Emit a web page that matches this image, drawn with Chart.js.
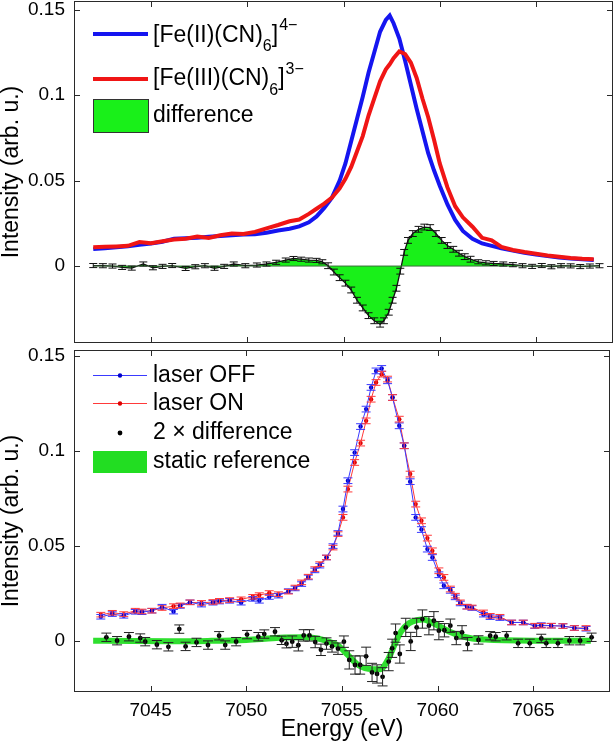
<!DOCTYPE html>
<html><head><meta charset="utf-8">
<script src="https://cdn.jsdelivr.net/npm/chart.js@4.4.1/dist/chart.umd.min.js"></script>
<style>
html,body{margin:0;padding:0;background:#fff;overflow:hidden}
#wrap{position:relative;width:614px;height:746px}
canvas{position:absolute;left:0}
#top{top:0}
#bot{top:344px}
</style></head><body>
<div id="wrap"><canvas id="top" width="614" height="344"></canvas><canvas id="bot" width="614" height="402"></canvas></div>
<script>
// ---------- DATA ----------
const xTicks = [7045, 7050, 7055, 7060, 7065];
const xTickLabels = ['7045', '7050', '7055', '7060', '7065'];
const yTicks = [0, 0.05, 0.1, 0.15];
const yTickLabels = ['0', '0.05', '0.1', '0.15'];

// Top panel: static spectra
const energyTop = [7042.0,7042.6,7043.2,7043.8,7044.4,7045.0,7045.6,7046.2,7046.8,7047.4,
  7048.0,7048.6,7049.2,7049.8,7050.4,7051.0,7051.6,7052.2,7052.7,7053.2,
  7053.6,7054.0,7054.4,7054.8,7055.1,7055.4,7055.7,7056.0,7056.3,7056.6,
  7056.9,7057.2,7057.4,7057.6,7057.9,7058.2,7058.5,7058.8,7059.1,7059.4,
  7059.7,7060.0,7060.4,7060.8,7061.2,7061.7,7062.2,7062.7,7063.2,7063.8,
  7064.4,7065.0,7065.6,7066.2,7066.8,7067.4,7068.0];
const fe2 = [0.0099,0.0104,0.0110,0.0116,0.0124,0.0132,0.0142,0.0160,0.0163,0.0166,
  0.0172,0.0176,0.0180,0.0184,0.0186,0.0195,0.0208,0.0218,0.0232,0.0256,
  0.0290,0.0340,0.0400,0.0500,0.0600,0.0730,0.0860,0.0990,0.1130,0.1250,
  0.1370,0.1440,0.1465,0.1420,0.1330,0.1200,0.1060,0.0920,0.0790,0.0660,
  0.0560,0.0470,0.0360,0.0270,0.0205,0.0160,0.0132,0.0118,0.0104,0.0090,
  0.0078,0.0068,0.0058,0.0050,0.0044,0.0040,0.0036];
const fe3 = [0.0110,0.0113,0.0115,0.0118,0.0140,0.0134,0.0145,0.0155,0.0160,0.0172,
  0.0164,0.0180,0.0190,0.0188,0.0200,0.0220,0.0240,0.0262,0.0272,0.0305,
  0.0335,0.0365,0.0400,0.0455,0.0510,0.0580,0.0670,0.0760,0.0880,0.0980,
  0.1080,0.1150,0.1180,0.1215,0.1255,0.1240,0.1190,0.1100,0.0980,0.0870,
  0.0740,0.0600,0.0460,0.0350,0.0285,0.0230,0.0165,0.0150,0.0112,0.0094,
  0.0082,0.0072,0.0062,0.0054,0.0047,0.0042,0.0040];

// Top panel: difference with error bars
const energyDiffTop = [7042.0,7042.5,7043.0,7043.5,7044.0,7044.6,7045.1,7045.6,7046.1,7046.8,
  7047.3,7047.8,7048.3,7048.8,7049.3,7049.9,7050.5,7051.0,7051.5,7052.0,
  7052.4,7052.8,7053.2,7053.6,7053.9,7054.2,7054.5,7054.8,7055.1,7055.4,
  7055.7,7056.0,7056.3,7056.6,7056.9,7057.1,7057.35,7057.55,7057.75,7057.95,
  7058.15,7058.35,7058.6,7058.9,7059.2,7059.5,7059.8,7060.1,7060.4,7060.7,
  7061.0,7061.3,7061.6,7062.0,7062.4,7062.8,7063.3,7063.8,7064.3,7064.8,
  7065.3,7065.8,7066.3,7066.8,7067.3,7067.8,7068.3];
const diffTop = [0.0003,0.0002,0.0000,-0.0008,-0.0012,0.0012,-0.0010,-0.0002,0.0003,-0.0014,
  -0.0004,0.0002,-0.0013,-0.0002,0.0012,0.0002,0.0006,0.0012,0.0022,0.0035,
  0.0044,0.0040,0.0035,0.0033,0.0025,0.0002,-0.0035,-0.0068,-0.0100,-0.0140,
  -0.0200,-0.0245,-0.0290,-0.0320,-0.0340,-0.0320,-0.0270,-0.0200,-0.0130,-0.0030,
  0.0080,0.0150,0.0190,0.0215,0.0228,0.0225,0.0190,0.0150,0.0120,0.0098,
  0.0075,0.0055,0.0040,0.0025,0.0019,0.0015,0.0012,0.0008,0.0002,-0.0002,
  0.0003,-0.0004,0.0002,0.0001,-0.0003,0.0000,0.0002];
const diffTopErr = [0.0012,0.0012,0.0012,0.0012,0.0012,0.0012,0.0012,0.0012,0.0012,0.0012,
  0.0012,0.0012,0.0012,0.0012,0.0012,0.0012,0.0012,0.0012,0.0012,0.0012,
  0.0012,0.0012,0.0012,0.0012,0.0012,0.0017,0.0017,0.0017,0.0017,0.0017,
  0.0017,0.0017,0.0017,0.0017,0.0017,0.0017,0.0017,0.0017,0.0017,0.0017,
  0.0017,0.0017,0.0017,0.0017,0.0017,0.0017,0.0017,0.0017,0.0017,0.0017,
  0.0017,0.0017,0.0017,0.0012,0.0012,0.0012,0.0012,0.0012,0.0012,0.0012,
  0.0012,0.0012,0.0012,0.0012,0.0012,0.0012,0.0012];
const baselineE = [7042.0, 7068.3];
const baselineY = [0, 0];

// Bottom panel: laser OFF / ON
const energyBot = [7042.4,7043.0,7043.6,7044.2,7044.55,7045.07,7045.6,7046.2,7046.55,7047.06,
  7047.66,7048.26,7048.6,7049.13,7049.73,7050.34,7050.68,7051.2,7051.68,7052.2,
  7052.55,7052.89,7053.24,7053.58,7053.84,7054.19,7054.53,7054.79,7055.05,7055.31,
  7055.66,7055.97,7056.26,7056.52,7056.78,7057.07,7057.38,7057.64,7057.99,7058.25,
  7058.56,7058.85,7059.15,7059.46,7059.72,7060.06,7060.32,7060.66,7060.92,7061.18,
  7061.53,7061.79,7062.39,7062.74,7063.25,7063.86,7064.47,7065.07,7065.41,7065.93,
  7066.54,7067.14,7067.75];
const laserOff = [0.0126,0.0140,0.0131,0.0152,0.0150,0.0158,0.0179,0.0153,0.0183,0.0202,
  0.0190,0.0200,0.0206,0.0210,0.0200,0.0220,0.0210,0.0230,0.0237,0.0261,
  0.0275,0.0298,0.0333,0.0370,0.0395,0.0438,0.0498,0.0567,0.0693,0.0842,
  0.0990,0.1127,0.1219,0.1333,0.1420,0.1433,0.1368,0.1280,0.1131,0.1026,
  0.0837,0.0649,0.0585,0.0482,0.0438,0.0347,0.0289,0.0265,0.0228,0.0196,
  0.0179,0.0172,0.0137,0.0124,0.0119,0.0096,0.0096,0.0077,0.0082,0.0079,
  0.0077,0.0067,0.0063];
const laserOn = [0.0137,0.0147,0.0140,0.0158,0.0154,0.0158,0.0172,0.0182,0.0186,0.0202,
  0.0199,0.0204,0.0210,0.0214,0.0218,0.0231,0.0240,0.0251,0.0245,0.0258,
  0.0280,0.0307,0.0337,0.0377,0.0403,0.0438,0.0490,0.0561,0.0649,0.0798,
  0.0938,0.1040,0.1157,0.1271,0.1359,0.1403,0.1377,0.1280,0.1166,0.1026,
  0.0877,0.0719,0.0631,0.0540,0.0473,0.0368,0.0333,0.0272,0.0237,0.0202,
  0.0179,0.0175,0.0149,0.0131,0.0126,0.0096,0.0096,0.0079,0.0079,0.0079,
  0.0077,0.0067,0.0067];
const laserErr = [0.0012,0.0012,0.0012,0.0012,0.0012,0.0012,0.0012,0.0012,0.0012,0.0012,
  0.0012,0.0012,0.0012,0.0012,0.0012,0.0012,0.0012,0.0012,0.0012,0.0012,
  0.0012,0.0012,0.0012,0.0012,0.0012,0.0012,0.0012,0.0012,0.0015,0.0015,
  0.0015,0.0015,0.0015,0.0015,0.0015,0.0015,0.0015,0.0015,0.0015,0.0015,
  0.0015,0.0015,0.0015,0.0015,0.0015,0.0015,0.0015,0.0015,0.0012,0.0012,
  0.0012,0.0012,0.0012,0.0012,0.0012,0.0012,0.0012,0.0012,0.0012,0.0012,
  0.0012,0.0012,0.0012];

// Bottom panel: 2 x difference
const energyDiff2 = [7042.69,7043.25,7043.87,7044.46,7044.72,7045.33,7045.93,7046.50,7046.83,7047.40,
  7048.00,7048.58,7048.90,7049.47,7050.04,7050.63,7050.94,7051.50,7051.85,7052.10,
  7052.40,7052.72,7053.00,7053.30,7053.60,7053.90,7054.19,7054.48,7054.79,7055.10,
  7055.38,7055.68,7055.95,7056.26,7056.57,7056.83,7057.12,7057.44,7057.62,7057.80,
  7058.02,7058.33,7058.59,7058.90,7059.20,7059.54,7059.80,7060.06,7060.35,7060.66,
  7060.97,7061.27,7061.56,7062.13,7062.74,7063.03,7063.60,7064.20,7064.81,7065.41,
  7065.67,7066.28,7066.88,7067.44,7068.04];
const diff2 = [0.0018,0.0000,0.0021,0.0014,-0.0005,-0.0021,-0.0032,0.0061,-0.0030,-0.0009,
  -0.0023,0.0026,-0.0023,-0.0005,0.0032,0.0021,0.0035,0.0047,0.0002,-0.0016,
  -0.0005,-0.0024,0.0028,0.0028,-0.0007,-0.0048,-0.0015,-0.0030,-0.0042,-0.0005,
  -0.0101,-0.0128,-0.0128,-0.0082,-0.0167,-0.0175,-0.0190,-0.0110,-0.0040,0.0040,
  -0.0070,0.0070,-0.0004,0.0070,0.0114,0.0079,0.0105,0.0053,0.0055,0.0079,
  0.0014,0.0044,-0.0018,0.0004,0.0026,0.0021,0.0026,-0.0014,-0.0014,0.0012,
  -0.0014,-0.0014,0.0000,0.0000,0.0018];
const diff2Err = [0.0022,0.0022,0.0022,0.0022,0.0022,0.0022,0.0022,0.0022,0.0022,0.0022,
  0.0022,0.0022,0.0022,0.0022,0.0022,0.0022,0.0022,0.0022,0.0022,0.0022,
  0.0030,0.0030,0.0030,0.0030,0.0030,0.0030,0.0030,0.0030,0.0030,0.0030,
  0.0048,0.0048,0.0048,0.0048,0.0048,0.0048,0.0048,0.0048,0.0048,0.0048,
  0.0048,0.0048,0.0048,0.0048,0.0048,0.0048,0.0048,0.0048,0.0035,0.0035,
  0.0035,0.0035,0.0035,0.0022,0.0022,0.0022,0.0022,0.0022,0.0022,0.0022,
  0.0022,0.0022,0.0022,0.0022,0.0022];

// Bottom panel: static reference
const energyRef = [7042.0,7044.0,7046.0,7048.0,7050.0,7051.0,7052.0,7053.0,7053.7,7054.3,
  7054.8,7055.3,7055.8,7056.2,7056.6,7057.0,7057.4,7057.75,7058.1,7058.5,
  7058.9,7059.25,7059.6,7060.0,7060.6,7061.2,7061.8,7062.5,7063.5,7065.0,7068.0];
const staticRef = [0.0000,-0.0002,-0.0003,-0.0001,0.0004,0.0010,0.0017,0.0018,0.0012,-0.0005,
  -0.0026,-0.0075,-0.0125,-0.0145,-0.0150,-0.0150,-0.0100,-0.0020,0.0050,0.0092,
  0.0108,0.0112,0.0100,0.0080,0.0048,0.0025,0.0012,0.0006,0.0002,0.0000,0.0000];

// ---------- HELPERS ----------
const FONT = '"Liberation Sans", Arial, Helvetica, sans-serif';
const pts = (xs, ys) => xs.map((x, i) => ({x: x, y: ys[i]}));
Chart.defaults.color = '#000';
Chart.defaults.font.family = FONT;

const errorBars = {
  id: 'errorBars',
  afterDatasetsDraw(chart) {
    const ctx = chart.ctx, xs = chart.scales.x, ys = chart.scales.y;
    chart.data.datasets.forEach((ds, i) => {
      if (!ds.errors || !chart.isDatasetVisible(i)) return;
      ctx.save();
      ctx.strokeStyle = ds.errorColor; ctx.lineWidth = ds.errorWidth || 1;
      ctx.beginPath();
      ds.data.forEach((p, j) => {
        const e = ds.errors[j]; if (e == null) return;
        const px = xs.getPixelForValue(p.x);
        const y1 = ys.getPixelForValue(p.y + e), y2 = ys.getPixelForValue(p.y - e);
        const c = ds.capHalf || 4;
        ctx.moveTo(px, y1); ctx.lineTo(px, y2);
        ctx.moveTo(px - c, y1); ctx.lineTo(px + c, y1);
        ctx.moveTo(px - c, y2); ctx.lineTo(px + c, y2);
      });
      ctx.stroke();
      ctx.restore();
    });
  }
};

const frame = {
  id: 'frame',
  afterDraw(chart) {
    const ctx = chart.ctx, a = chart.chartArea, xs = chart.scales.x, ys = chart.scales.y;
    ctx.save();
    ctx.strokeStyle = '#2a2a2a'; ctx.lineWidth = 1;
    ctx.strokeRect(a.left + 0.5, a.top + 0.5, a.right - a.left - 1, a.bottom - a.top - 1);
    ctx.beginPath();
    xTicks.forEach(v => {
      const px = Math.round(xs.getPixelForValue(v)) + 0.5;
      ctx.moveTo(px, a.bottom); ctx.lineTo(px, a.bottom - 6);
      ctx.moveTo(px, a.top); ctx.lineTo(px, a.top + 6);
    });
    yTicks.forEach(v => {
      const py = Math.round(ys.getPixelForValue(v)) + 0.5;
      ctx.moveTo(a.left, py); ctx.lineTo(a.left + 6, py);
      ctx.moveTo(a.right, py); ctx.lineTo(a.right - 6, py);
    });
    ctx.stroke();
    ctx.restore();
  }
};

function txt(ctx, s, x, y, size) {
  ctx.font = size + 'px ' + FONT;
  ctx.textBaseline = 'middle'; ctx.textAlign = 'left'; ctx.fillStyle = '#000';
  ctx.fillText(s, x, y);
  return x + ctx.measureText(s).width;
}

const legendTop = {
  id: 'legendTop',
  afterDraw(chart) {
    const ctx = chart.ctx;
    ctx.save();
    ctx.lineWidth = 4;
    ctx.strokeStyle = '#1515f0';
    ctx.beginPath(); ctx.moveTo(93, 34); ctx.lineTo(148, 34); ctx.stroke();
    let x = txt(ctx, '[Fe(II)(CN)', 153, 36, 23);
    x = txt(ctx, '6', x, 47, 16);
    x = txt(ctx, ']', x, 36, 23);
    txt(ctx, '4\u2212', x + 1, 26, 16);
    ctx.strokeStyle = '#f01515';
    ctx.beginPath(); ctx.moveTo(93, 79); ctx.lineTo(148, 79); ctx.stroke();
    x = txt(ctx, '[Fe(III)(CN)', 153, 79, 23);
    x = txt(ctx, '6', x, 91, 16);
    x = txt(ctx, ']', x, 79, 23);
    txt(ctx, '3\u2212', x + 1, 70, 16);
    ctx.fillStyle = '#19f019';
    ctx.fillRect(93, 99, 55, 33);
    ctx.lineWidth = 1; ctx.strokeStyle = '#333';
    ctx.strokeRect(93.5, 99.5, 55, 33);
    txt(ctx, 'difference', 153, 116, 23);
    ctx.restore();
  }
};

const OFF = 344;
const legendBot = {
  id: 'legendBot',
  afterDraw(chart) {
    const ctx = chart.ctx;
    ctx.save();
    ctx.lineWidth = 1;
    ctx.strokeStyle = '#3a3aff'; ctx.fillStyle = '#0000cc';
    ctx.beginPath(); ctx.moveTo(93, 375.5 - OFF); ctx.lineTo(147, 375.5 - OFF); ctx.stroke();
    ctx.beginPath(); ctx.arc(120, 375.5 - OFF, 2.2, 0, Math.PI * 2); ctx.fill();
    txt(ctx, 'laser OFF', 153, 376 - OFF, 23);
    ctx.strokeStyle = '#ff3a3a'; ctx.fillStyle = '#dd0000';
    ctx.beginPath(); ctx.moveTo(93, 403.5 - OFF); ctx.lineTo(147, 403.5 - OFF); ctx.stroke();
    ctx.beginPath(); ctx.arc(120, 403.5 - OFF, 2.2, 0, Math.PI * 2); ctx.fill();
    txt(ctx, 'laser ON', 153, 404 - OFF, 23);
    ctx.fillStyle = '#000';
    ctx.beginPath(); ctx.arc(120, 433 - OFF, 2.4, 0, Math.PI * 2); ctx.fill();
    txt(ctx, '2 \u00d7 difference', 153, 433 - OFF, 23);
    ctx.fillStyle = '#22dd22';
    ctx.fillRect(93, 451 - OFF, 54, 22);
    txt(ctx, 'static reference', 153, 462 - OFF, 23);
    ctx.restore();
  }
};

const xScaleBase = {
  type: 'linear', min: 7041, max: 7069,
  grid: {display: false, drawTicks: false},
  border: {display: false},
  afterBuildTicks: s => { s.ticks = xTicks.map(v => ({value: v})); }
};
function yScale(min, max) {
  return {
    type: 'linear', min: min, max: max,
    grid: {display: false, drawTicks: false},
    border: {display: false},
    afterBuildTicks: s => { s.ticks = yTicks.map(v => ({value: v})); },
    ticks: {
      padding: 9, font: {size: 19, family: FONT}, color: '#000',
      callback: (v) => { const k = yTicks.indexOf(v); return k >= 0 ? yTickLabels[k] : ''; }
    },
    title: {display: true, text: 'Intensity (arb. u.)', font: {size: 23, family: FONT, lineHeight: 1}, padding: 0, color: '#000'},
    afterFit: s => { s.width = 74; s.paddingTop = 0; s.paddingBottom = 0; }
  };
}

// ---------- TOP CHART ----------
new Chart(document.getElementById('top'), {
  type: 'line',
  data: {
    datasets: [
      {data: pts(energyTop, fe3), borderColor: '#f01515', borderWidth: 4, pointRadius: 0, fill: false, order: 0},
      {data: pts(energyTop, fe2), borderColor: '#1515f0', borderWidth: 4, pointRadius: 0, fill: false, order: 1},
      {data: pts(baselineE, baselineY), borderColor: '#3b6e3b', borderWidth: 1, pointRadius: 0, fill: false, order: 2},
      {data: pts(energyDiffTop, diffTop), borderColor: '#111', borderWidth: 1.3, pointRadius: 0,
        backgroundColor: '#19f019', fill: 'origin', order: 3,
        errors: diffTopErr, errorColor: '#111', capHalf: 4}
    ]
  },
  options: {
    responsive: false, animation: false, devicePixelRatio: 1,
    layout: {padding: {top: 1, right: 1, bottom: 1, left: 0}},
    plugins: {legend: {display: false}, tooltip: {enabled: false}},
    scales: {
      x: Object.assign({}, xScaleBase, {display: false,
        afterFit: s => { s.height = 0; s.paddingLeft = 0; s.paddingRight = 0; }}),
      y: yScale(-0.045, 0.155)
    }
  },
  plugins: [errorBars, frame, legendTop]
});

// ---------- BOTTOM CHART ----------
new Chart(document.getElementById('bot'), {
  type: 'line',
  data: {
    datasets: [
      {data: pts(energyDiff2, diff2), showLine: false, pointRadius: 2.4, pointBorderWidth: 0,
        pointBackgroundColor: '#000', borderColor: '#000', order: 0,
        errors: diff2Err, errorColor: '#222', capHalf: 5},
      {data: pts(energyBot, laserOff), borderColor: '#3a3aff', borderWidth: 1, pointRadius: 2.2, pointBorderWidth: 0,
        pointBackgroundColor: '#0000cc', order: 1, errors: laserErr, errorColor: '#3a3aff', capHalf: 4.5},
      {data: pts(energyBot, laserOn), borderColor: '#ff3a3a', borderWidth: 1, pointRadius: 2.2, pointBorderWidth: 0,
        pointBackgroundColor: '#dd0000', order: 2, errors: laserErr, errorColor: '#ff3a3a', capHalf: 4.5},
      {data: pts(energyRef, staticRef), borderColor: '#2fdf2f', borderWidth: 6, pointRadius: 0,
        tension: 0.4, cubicInterpolationMode: 'monotone', fill: false, order: 3}
    ]
  },
  options: {
    responsive: false, animation: false, devicePixelRatio: 1,
    layout: {padding: {top: 6, right: 1, bottom: 0, left: 0}},
    plugins: {legend: {display: false}, tooltip: {enabled: false}},
    scales: {
      x: Object.assign({}, xScaleBase, {
        ticks: {padding: 7, font: {size: 19, family: FONT}, color: '#000', maxRotation: 0,
          callback: (v) => { const k = xTicks.indexOf(v); return k >= 0 ? xTickLabels[k] : ''; }},
        title: {display: true, text: 'Energy (eV)', font: {size: 23, family: FONT}, padding: {top: 0, bottom: 3}, color: '#000'},
        afterFit: s => { s.height = 54; s.paddingLeft = 0; s.paddingRight = 0; }
      }),
      y: yScale(-0.027, 0.153)
    }
  },
  plugins: [errorBars, frame, legendBot]
});
</script>
</body></html>
